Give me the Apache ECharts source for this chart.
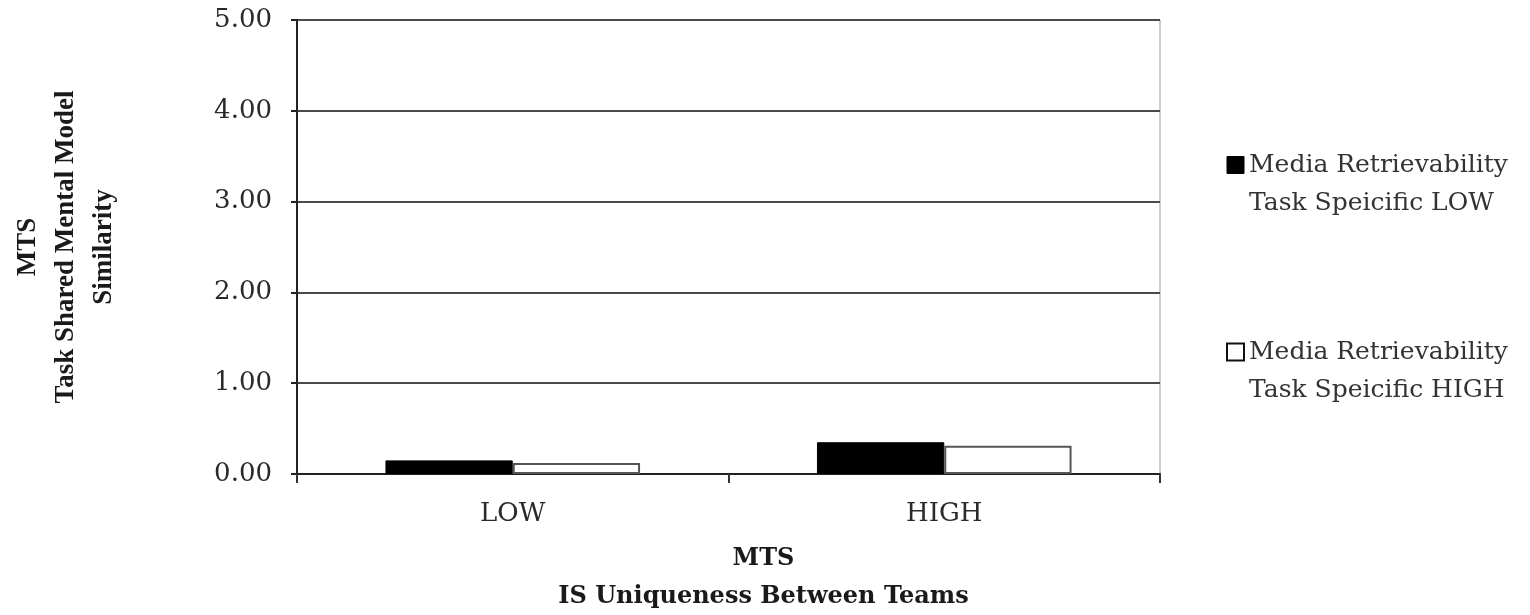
<!DOCTYPE html>
<html>
<head>
<meta charset="utf-8">
<script src="https://cdn.jsdelivr.net/npm/echarts@6/dist/echarts.min.js"></script>
<style>
  html, body { margin: 0; padding: 0; background: #fff; }
  #chart { width: 1530px; height: 615px; }
</style>
</head>
<body>
<div id="chart"></div>
<script>
// Group labels along the x axis
const categories = ['LOW', 'HIGH'];
// Mean similarity per group, one array per legend entry
const retrievabilityLow = [0.15, 0.35];
const retrievabilityHigh = [0.12, 0.31];
const seriesNames = [
  'Media Retrievability\nTask Speicific LOW',
  'Media Retrievability\nTask Speicific HIGH'
];
const yTicks = { min: 0, max: 5, interval: 1 };

const wideSerif = '"DejaVu Serif", "Liberation Serif", serif';
const narrowSerif = '"Liberation Serif", "DejaVu Serif", serif';

const chart = echarts.init(document.getElementById('chart'));
chart.setOption({
  backgroundColor: '#ffffff',
  animation: false,
  textStyle: { fontFamily: wideSerif },
  grid: {
    left: 297, right: 370, top: 20, bottom: 141,
    outerBoundsMode: 'none',
    show: true, borderColor: '#9a9a9a', borderWidth: 1
  },
  legend: {
    orient: 'vertical',
    left: 1226,
    top: 108,
    padding: 0,
    itemGap: 73,
    itemWidth: 17,
    itemHeight: 17,
    icon: 'rect',
    // leading blank line keeps the swatch level with the first text line
    formatter: name => ' \n' + name,
    textStyle: {
      fontFamily: wideSerif,
      fontSize: 25,
      color: '#333',
      lineHeight: 38
    },
    data: [
      { name: seriesNames[0], itemStyle: { color: '#000', borderColor: '#000', borderWidth: 1 } },
      { name: seriesNames[1], itemStyle: { color: '#fff', borderColor: '#111', borderWidth: 2 } }
    ]
  },
  xAxis: {
    type: 'category',
    data: categories,
    name: 'MTS\nIS Uniqueness Between Teams',
    nameLocation: 'middle',
    nameGap: 66,
    nameTextStyle: {
      fontFamily: wideSerif, fontSize: 24, fontWeight: 'bold', color: '#1a1a1a', lineHeight: 38,
      // title sits a little right of the axis centre
      padding: [0, 0, 0, 70]
    },
    axisLine: { lineStyle: { color: '#222', width: 2 } },
    axisTick: { show: true, length: 9, inside: false, lineStyle: { color: '#333', width: 2 } },
    axisLabel: { fontFamily: wideSerif, fontSize: 26, color: '#2a2a2a', margin: 27 },
    splitLine: { show: false }
  },
  yAxis: {
    type: 'value',
    min: yTicks.min,
    max: yTicks.max,
    interval: yTicks.interval,
    name: 'MTS\nTask Shared Mental Model\nSimilarity',
    nameLocation: 'middle',
    nameGap: 174,
    nameRotate: 90,
    nameTextStyle: { fontFamily: narrowSerif, fontSize: 27, fontWeight: 'bold', color: '#1a1a1a', lineHeight: 38 },
    axisLine: { show: true, lineStyle: { color: '#222', width: 2 } },
    axisTick: { show: true, length: 6, lineStyle: { color: '#222', width: 2 } },
    axisLabel: {
      fontFamily: wideSerif, fontSize: 26, color: '#2a2a2a', margin: 25,
      formatter: v => v.toFixed(2)
    },
    splitLine: { show: true, lineStyle: { color: '#4a4a4a', width: 2 } }
  },
  series: [
    {
      name: seriesNames[0],
      type: 'bar',
      data: retrievabilityLow,
      barGap: '0%',
      barCategoryGap: '41%',
      itemStyle: { color: '#000', borderColor: '#000', borderWidth: 1 }
    },
    {
      name: seriesNames[1],
      type: 'bar',
      data: retrievabilityHigh,
      itemStyle: { color: '#fff', borderColor: '#555', borderWidth: 2 }
    }
  ]
});
</script>
</body>
</html>
